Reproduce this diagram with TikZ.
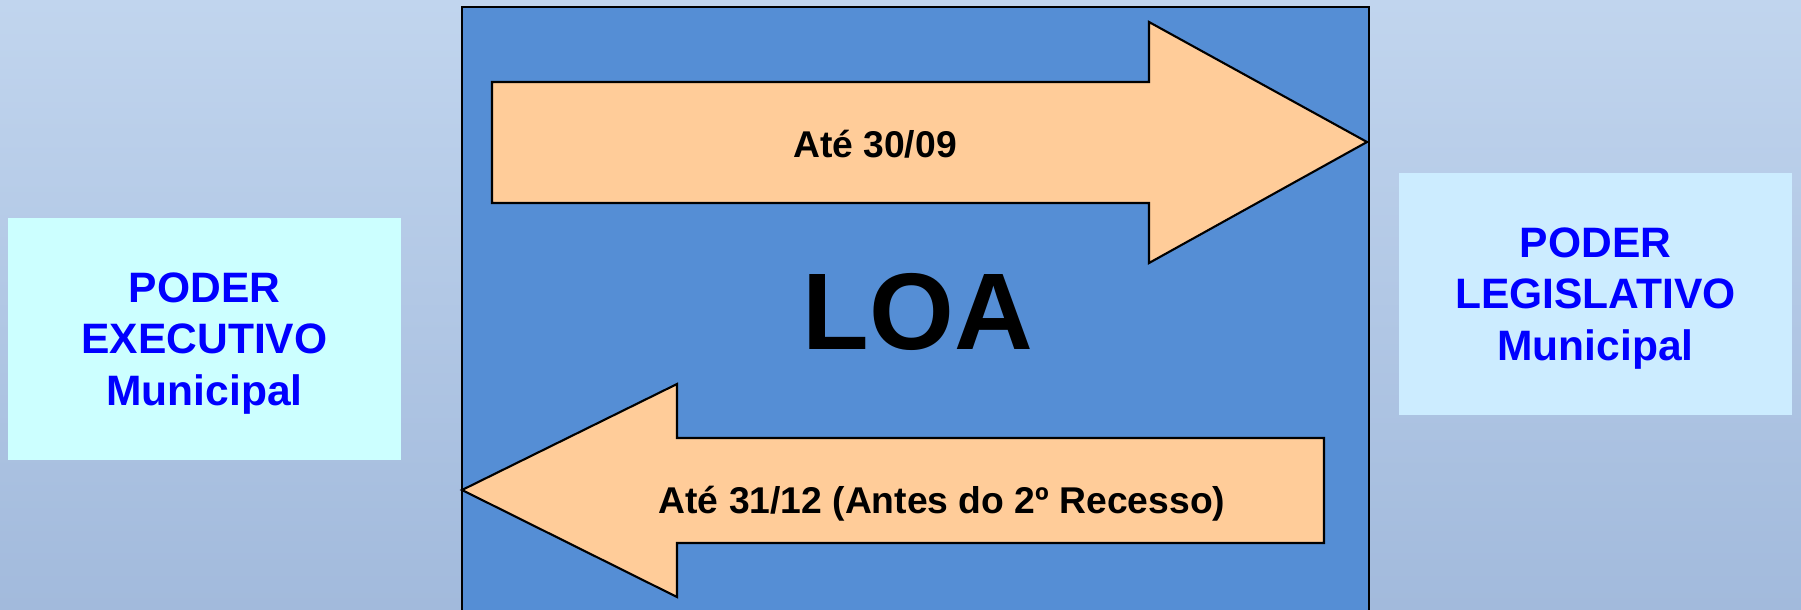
\documentclass[tikz,border=0pt]{standalone}
\usepackage{fontspec}
\setmainfont{Liberation Sans}
\definecolor{fundoTopo}{RGB}{193,213,238}
\definecolor{fundoBase}{RGB}{162,186,220}
\definecolor{azulLOA}{RGB}{85,142,213}
\definecolor{seta}{RGB}{255,204,153}
\definecolor{caixaExec}{RGB}{204,255,255}
\definecolor{caixaLeg}{RGB}{204,236,255}
\definecolor{textoPoder}{RGB}{0,0,255}

\begin{document}
\begin{tikzpicture}[x=0.01cm,y=-0.01cm]
  \tikzset{PoderStyle/.style = {
  shape = rectangle,
  inner sep = 0pt,
  minimum width = 3.93cm,
  minimum height = 2.42cm,
  align = center,
  text depth = 0pt,
  text = textoPoder,
  font = \fontsize{12.1}{14.6}\selectfont\bfseries},
  SetaStyle/.style = {
  fill = seta,
  draw = black,
  line width = 0.6pt,
  line join = miter},
  PrazoStyle/.style = {
  anchor = base,
  inner sep = 0pt,
  font = \fontsize{10.6}{12.5}\selectfont\bfseries}}
  \useasboundingbox (0,0) rectangle (1801,609);
  \shade[top color=fundoTopo, bottom color=fundoBase] (0,0) rectangle (1801,609);
  % quadro central
  \draw[fill=azulLOA, line width=0.6pt] (462,7) rectangle (1369,640);
  \node[anchor=base, inner sep=0pt, font=\fontsize{31}{36}\selectfont\bfseries]
    (loa) at (918,349) {LOA};
  % setas
  \draw[SetaStyle] (492,82) -- (1149,82) -- (1149,22) -- (1367,142)
    -- (1149,263) -- (1149,203) -- (492,203) -- cycle;
  \draw[SetaStyle] (462,490) -- (677,384) -- (677,438) -- (1324,438)
    -- (1324,543) -- (677,543) -- (677,597) -- cycle;
  \node[PrazoStyle] (envio) at (875,157) {Até 30/09};
  \node[PrazoStyle] (retorno) at (942,513) {Até 31/12 (Antes do 2º Recesso)};
  % poderes
  \node[PoderStyle, fill=caixaExec] (exec) at (204.5,339) {PODER\\EXECUTIVO\\Municipal};
  \node[PoderStyle, fill=caixaLeg] (leg) at (1595.5,294) {PODER\\LEGISLATIVO\\Municipal};
\end{tikzpicture}
\end{document}
